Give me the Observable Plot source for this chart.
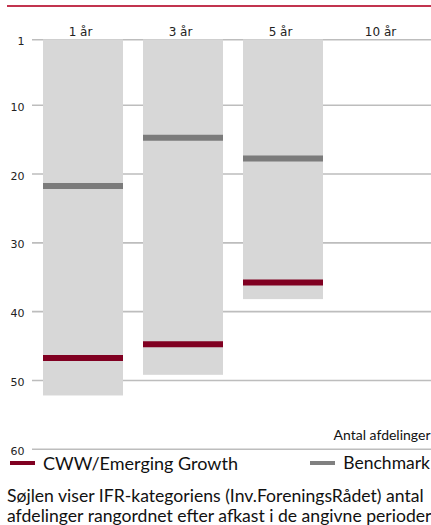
<!DOCTYPE html>
<html>
<head>
<meta charset="utf-8">
<script src="https://cdn.jsdelivr.net/npm/d3@7"></script>
<script src="https://cdn.jsdelivr.net/npm/@observablehq/plot@0.6"></script>
<style>
  html, body { margin: 0; padding: 0; background: #fff; }
  body { width: 431px; height: 525px; position: relative; overflow: hidden; }
  #topline { position: absolute; left: 7px; right: 0; top: 5px; height: 2px; background: #c2344f; }
  #chart { position: absolute; left: 0; top: 0; }
  .legend { position: absolute; top: 452px; font-family: Lato, sans-serif; font-size: 18px; color: #111; line-height: 22px; white-space: nowrap; }
  .legend .sw { display: inline-block; width: 25px; height: 4px; vertical-align: middle; margin-right: 8px; position: relative; top: -2px; }
  #caption { position: absolute; left: 7px; top: 486px; width: 424px; font-family: Lato, sans-serif; font-size: 17.6px; line-height: 19.5px; color: #111; white-space: nowrap; }
</style>
</head>
<body>
<div id="topline"></div>
<div id="chart"></div>
<div class="legend" style="left:10px"><span class="sw" style="background:#800021"></span>CWW/Emerging Growth</div>
<div class="legend" style="right:1px; font-size:17.5px"><span class="sw" style="background:#808080"></span>Benchmark</div>
<div id="caption">Søjlen viser IFR-kategoriens (Inv.ForeningsRådet) antal<br>afdelinger rangordnet efter afkast i de angivne perioder</div>
<script>
const periods = ["1 år", "3 år", "5 år", "10 år"];
const categoryCounts = [52, 49, 38, null];
const fundRanks = [47, 45, 36, null];
const benchmarkRanks = [22, 15, 18, null];
const yTickValues = [1, 10, 20, 30, 40, 50, 60];
const axisTitle = "Antal afdelinger";

const rows = periods.map((p, i) => ({period: p, count: categoryCounts[i], fund: fundRanks[i], bench: benchmarkRanks[i]}))
  .filter(d => d.count != null);
// rank 1 band starts at 0.5
const tickPos = v => (v === 1 ? 0.5 : v);

const plot = Plot.plot({
  width: 431,
  height: 462,
  marginLeft: 32,
  marginRight: 0,
  marginTop: 39,
  marginBottom: 13,
  x: {domain: periods, range: [33, 433], paddingInner: 0.2, paddingOuter: 0.1, axis: null},
  y: {domain: [0.5, 60], range: [39.3, 448.8], axis: null},
  marks: [
    Plot.ruleY(yTickValues.map(tickPos), {stroke: "#bdbdbd", strokeWidth: 1.6}),
    Plot.barY(rows, {x: "period", y1: () => 0.5, y2: d => d.count + 0.25, fill: "#d7d7d7"}),
    Plot.tickY(rows, {x: "period", y: d => d.bench - 0.25, stroke: "#7b7b7b", strokeWidth: 6}),
    Plot.tickY(rows, {x: "period", y: d => d.fund - 0.25, stroke: "#800021", strokeWidth: 6}),
    Plot.text(yTickValues, {y: tickPos, text: d => String(d), frameAnchor: "left", textAnchor: "end", dx: -8, dy: 2,
      fontFamily: "DejaVu Sans", fontSize: 11, fill: "#222"}),
    Plot.text(periods, {x: d => d, text: d => d, frameAnchor: "top", dy: -12, dx: -3,
      fontFamily: "DejaVu Sans", fontSize: 12, fill: "#222"}),
    Plot.text([axisTitle], {frameAnchor: "bottom-right", text: d => d, textAnchor: "end", lineAnchor: "bottom", dx: -1, dy: -10,
      fontFamily: "Lato", fontSize: 14, fill: "#111"})
  ]
});
document.getElementById("chart").appendChild(plot);
</script>
</body>
</html>
